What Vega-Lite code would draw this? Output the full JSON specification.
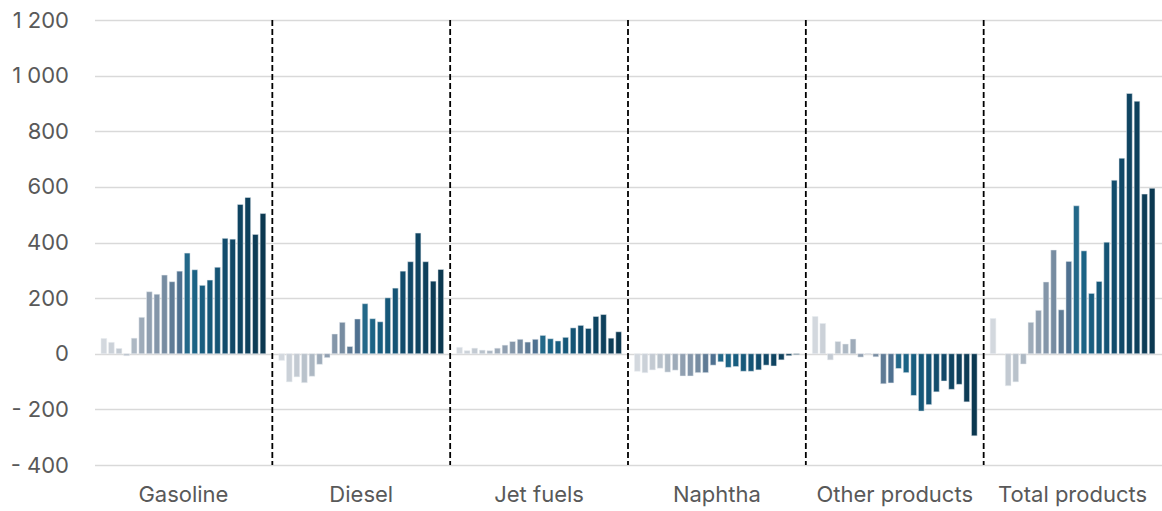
{
  "$schema": "https://vega.github.io/schema/vega-lite/v6.json",
  "width": 1067,
  "height": 445,
  "autosize": {"type": "none"},
  "padding": {"left": 94.5, "top": 20, "right": 0.5, "bottom": 46},
  "background": "white",
  "config": {
    "view": {"stroke": null},
    "font": "Inter",
    "axis": {"labelFont": "Inter", "labelColor": "#595959", "labelFontSize": 22}
  },
  "datasets": {
    "bars": [
      {"group": "Gasoline", "year": 1, "value": 55}, {"group": "Gasoline", "year": 2, "value": 41}, {"group": "Gasoline", "year": 3, "value": 19}, {"group": "Gasoline", "year": 4, "value": -7}, {"group": "Gasoline", "year": 5, "value": 56}, {"group": "Gasoline", "year": 6, "value": 131}, {"group": "Gasoline", "year": 7, "value": 223}, {"group": "Gasoline", "year": 8, "value": 214}, {"group": "Gasoline", "year": 9, "value": 283}, {"group": "Gasoline", "year": 10, "value": 259}, {"group": "Gasoline", "year": 11, "value": 297}, {"group": "Gasoline", "year": 12, "value": 362}, {"group": "Gasoline", "year": 13, "value": 302}, {"group": "Gasoline", "year": 14, "value": 246}, {"group": "Gasoline", "year": 15, "value": 265}, {"group": "Gasoline", "year": 16, "value": 311}, {"group": "Gasoline", "year": 17, "value": 415}, {"group": "Gasoline", "year": 18, "value": 412}, {"group": "Gasoline", "year": 19, "value": 537}, {"group": "Gasoline", "year": 20, "value": 562}, {"group": "Gasoline", "year": 21, "value": 429}, {"group": "Gasoline", "year": 22, "value": 504},
      {"group": "Diesel", "year": 1, "value": -24}, {"group": "Diesel", "year": 2, "value": -101}, {"group": "Diesel", "year": 3, "value": -83}, {"group": "Diesel", "year": 4, "value": -104}, {"group": "Diesel", "year": 5, "value": -81}, {"group": "Diesel", "year": 6, "value": -38}, {"group": "Diesel", "year": 7, "value": -14}, {"group": "Diesel", "year": 8, "value": 71}, {"group": "Diesel", "year": 9, "value": 113}, {"group": "Diesel", "year": 10, "value": 26}, {"group": "Diesel", "year": 11, "value": 125}, {"group": "Diesel", "year": 12, "value": 180}, {"group": "Diesel", "year": 13, "value": 126}, {"group": "Diesel", "year": 14, "value": 115}, {"group": "Diesel", "year": 15, "value": 201}, {"group": "Diesel", "year": 16, "value": 236}, {"group": "Diesel", "year": 17, "value": 297}, {"group": "Diesel", "year": 18, "value": 331}, {"group": "Diesel", "year": 19, "value": 434}, {"group": "Diesel", "year": 20, "value": 331}, {"group": "Diesel", "year": 21, "value": 261}, {"group": "Diesel", "year": 22, "value": 303},
      {"group": "Jet fuels", "year": 1, "value": 23}, {"group": "Jet fuels", "year": 2, "value": 11}, {"group": "Jet fuels", "year": 3, "value": 20}, {"group": "Jet fuels", "year": 4, "value": 13}, {"group": "Jet fuels", "year": 5, "value": 11}, {"group": "Jet fuels", "year": 6, "value": 20}, {"group": "Jet fuels", "year": 7, "value": 31}, {"group": "Jet fuels", "year": 8, "value": 44}, {"group": "Jet fuels", "year": 9, "value": 52}, {"group": "Jet fuels", "year": 10, "value": 42}, {"group": "Jet fuels", "year": 11, "value": 52}, {"group": "Jet fuels", "year": 12, "value": 66}, {"group": "Jet fuels", "year": 13, "value": 54}, {"group": "Jet fuels", "year": 14, "value": 46}, {"group": "Jet fuels", "year": 15, "value": 59}, {"group": "Jet fuels", "year": 16, "value": 93}, {"group": "Jet fuels", "year": 17, "value": 102}, {"group": "Jet fuels", "year": 18, "value": 91}, {"group": "Jet fuels", "year": 19, "value": 134}, {"group": "Jet fuels", "year": 20, "value": 141}, {"group": "Jet fuels", "year": 21, "value": 56}, {"group": "Jet fuels", "year": 22, "value": 79},
      {"group": "Naphtha", "year": 1, "value": -63}, {"group": "Naphtha", "year": 2, "value": -68}, {"group": "Naphtha", "year": 3, "value": -58}, {"group": "Naphtha", "year": 4, "value": -52}, {"group": "Naphtha", "year": 5, "value": -66}, {"group": "Naphtha", "year": 6, "value": -59}, {"group": "Naphtha", "year": 7, "value": -80}, {"group": "Naphtha", "year": 8, "value": -80}, {"group": "Naphtha", "year": 9, "value": -68}, {"group": "Naphtha", "year": 10, "value": -68}, {"group": "Naphtha", "year": 11, "value": -41}, {"group": "Naphtha", "year": 12, "value": -29}, {"group": "Naphtha", "year": 13, "value": -49}, {"group": "Naphtha", "year": 14, "value": -46}, {"group": "Naphtha", "year": 15, "value": -63}, {"group": "Naphtha", "year": 16, "value": -63}, {"group": "Naphtha", "year": 17, "value": -58}, {"group": "Naphtha", "year": 18, "value": -41}, {"group": "Naphtha", "year": 19, "value": -44}, {"group": "Naphtha", "year": 20, "value": -22}, {"group": "Naphtha", "year": 21, "value": -7}, {"group": "Naphtha", "year": 22, "value": -3},
      {"group": "Other products", "year": 1, "value": 134}, {"group": "Other products", "year": 2, "value": 109}, {"group": "Other products", "year": 3, "value": -22}, {"group": "Other products", "year": 4, "value": 44}, {"group": "Other products", "year": 5, "value": 35}, {"group": "Other products", "year": 6, "value": 53}, {"group": "Other products", "year": 7, "value": -12}, {"group": "Other products", "year": 8, "value": -1}, {"group": "Other products", "year": 9, "value": -11}, {"group": "Other products", "year": 10, "value": -108}, {"group": "Other products", "year": 11, "value": -105}, {"group": "Other products", "year": 12, "value": -53}, {"group": "Other products", "year": 13, "value": -68}, {"group": "Other products", "year": 14, "value": -150}, {"group": "Other products", "year": 15, "value": -206}, {"group": "Other products", "year": 16, "value": -183}, {"group": "Other products", "year": 17, "value": -137}, {"group": "Other products", "year": 18, "value": -98}, {"group": "Other products", "year": 19, "value": -128}, {"group": "Other products", "year": 20, "value": -110}, {"group": "Other products", "year": 21, "value": -173}, {"group": "Other products", "year": 22, "value": -295},
      {"group": "Total products", "year": 1, "value": 127}, {"group": "Total products", "year": 2, "value": 0}, {"group": "Total products", "year": 3, "value": -115}, {"group": "Total products", "year": 4, "value": -101}, {"group": "Total products", "year": 5, "value": -37}, {"group": "Total products", "year": 6, "value": 113}, {"group": "Total products", "year": 7, "value": 156}, {"group": "Total products", "year": 8, "value": 258}, {"group": "Total products", "year": 9, "value": 373}, {"group": "Total products", "year": 10, "value": 158}, {"group": "Total products", "year": 11, "value": 332}, {"group": "Total products", "year": 12, "value": 532}, {"group": "Total products", "year": 13, "value": 370}, {"group": "Total products", "year": 14, "value": 217}, {"group": "Total products", "year": 15, "value": 260}, {"group": "Total products", "year": 16, "value": 401}, {"group": "Total products", "year": 17, "value": 624}, {"group": "Total products", "year": 18, "value": 703}, {"group": "Total products", "year": 19, "value": 936}, {"group": "Total products", "year": 20, "value": 908}, {"group": "Total products", "year": 21, "value": 574}, {"group": "Total products", "year": 22, "value": 595}
    ],
    "dividers": [
      {"group": "Diesel"}, {"group": "Jet fuels"}, {"group": "Naphtha"}, {"group": "Other products"}, {"group": "Total products"}
    ]
  },
  "layer": [
    {
      "data": {"name": "bars"},
      "mark": {"type": "bar", "stroke": "#e8edf1", "strokeWidth": 0.5},
      "encoding": {
        "x": {
          "field": "group", "type": "nominal",
          "scale": {"domain": ["Gasoline", "Diesel", "Jet fuels", "Naphtha", "Other products", "Total products"], "paddingInner": 0, "paddingOuter": 0},
          "axis": {"title": null, "domain": false, "ticks": false, "labelAngle": 0, "labelPadding": 19, "labelColor": "#595959", "labelFontSize": 22}
        },
        "xOffset": {
          "field": "year", "type": "ordinal",
          "scale": {"paddingInner": 0.25, "paddingOuter": 0.86}
        },
        "y": {
          "field": "value", "type": "quantitative",
          "scale": {"domain": [-400, 1200], "nice": false, "zero": false},
          "axis": {
            "title": null, "values": [-400, -200, 0, 200, 400, 600, 800, 1000, 1200],
            "domain": false, "ticks": false, "labelPadding": 26,
            "gridColor": "#d9d9d9", "gridWidth": 1.5,
            "labelExpr": "datum.value < 0 ? '- ' + replace(format(-datum.value, ','), ',', ' ') : replace(format(datum.value, ','), ',', ' ')"
          }
        },
        "color": {
          "field": "year", "type": "ordinal", "legend": null,
          "scale": {
            "domain": [1,2,3,4,5,6,7,8,9,10,11,12,13,14,15,16,17,18,19,20,21,22],
            "range": ["#d3d8de", "#cbd1d8", "#c3cad2", "#b9c2cb", "#adb8c3", "#9eabb9", "#909fb0", "#8496a9", "#778ca1", "#5f7b95", "#4f7190", "#236889", "#1b6385", "#185d7f", "#165879", "#155475", "#124c6c", "#114867", "#0f4461", "#0e405c", "#0d3c56", "#0b3850"]
          }
        }
      }
    },
    {
      "data": {"name": "dividers"},
      "mark": {"type": "rule", "color": "#000000", "strokeWidth": 1.8, "strokeDash": [6, 3]},
      "encoding": {
        "x": {"field": "group", "type": "nominal", "bandPosition": 0}
      }
    }
  ]
}
